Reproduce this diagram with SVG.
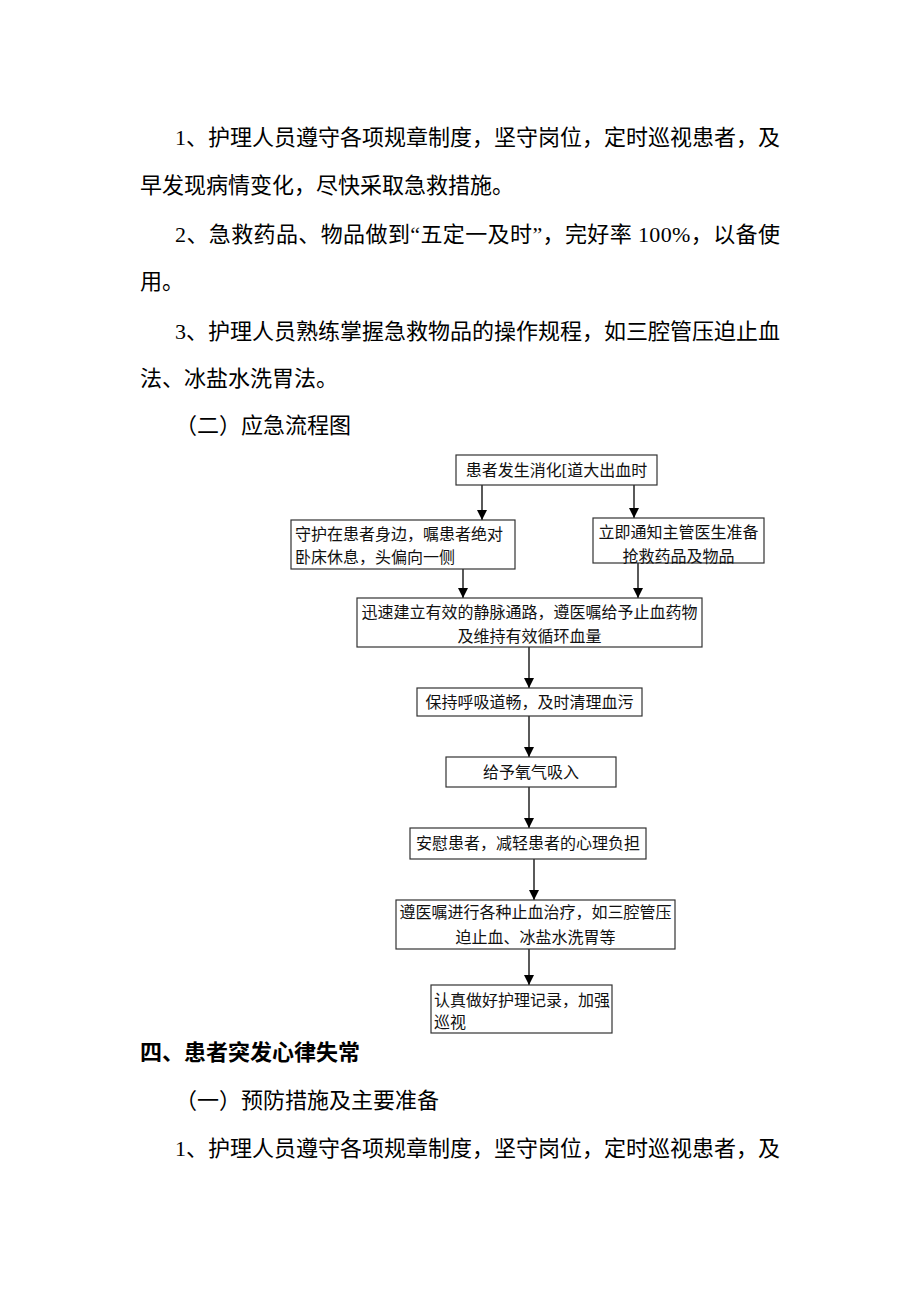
<svg xmlns="http://www.w3.org/2000/svg" width="920" height="1302" viewBox="0 0 920 1302">
<style>
.body{font-family:"Liberation Serif","Noto Sans CJK SC",serif;font-size:22px;fill:#000}
.bold{font-weight:bold}
.nt{font-family:"Liberation Serif","Noto Sans CJK SC",serif;font-size:16px;fill:#111}
.box{fill:#fff;stroke:#333;stroke-width:1.2}
.conn line{stroke:#000;stroke-width:1.3;marker-end:url(#ah)}
</style>
<defs>
<marker id="ah" markerUnits="userSpaceOnUse" markerWidth="12" markerHeight="12" refX="10" refY="5" orient="auto">
<path d="M0,0 L10,5 L0,10 Z" fill="#000"/>
</marker>
</defs>
<rect width="920" height="1302" fill="#fff"/>
<g id="text-top">
<text class="body" x="175" y="145" textLength="605" lengthAdjust="spacing">1、护理人员遵守各项规章制度，坚守岗位，定时巡视患者，及</text>
<text class="body" x="140" y="193">早发现病情变化，尽快采取急救措施。</text>
<text class="body" x="175" y="242" textLength="605" lengthAdjust="spacing">2、急救药品、物品做到“五定一及时”，完好率 100%，以备使</text>
<text class="body" x="140" y="289">用。</text>
<text class="body" x="175" y="339" textLength="605" lengthAdjust="spacing">3、护理人员熟练掌握急救物品的操作规程，如三腔管压迫止血</text>
<text class="body" x="140" y="386">法、冰盐水洗胃法。</text>
<text class="body" x="175" y="433">（二）应急流程图</text>
</g>
<g id="connectors" class="conn">
<line x1="482" y1="485" x2="482" y2="520"/>
<line x1="634" y1="485" x2="634" y2="518"/>
<line x1="463" y1="569" x2="463" y2="598"/>
<line x1="638" y1="563" x2="638" y2="598"/>
<line x1="529" y1="647" x2="529" y2="688"/>
<line x1="529" y1="716" x2="529" y2="757"/>
<line x1="529" y1="787" x2="529" y2="828"/>
<line x1="534" y1="859" x2="534" y2="900"/>
<line x1="529" y1="949" x2="529" y2="985"/>
</g>
<g id="n1">
<rect class="box" x="456" y="455" width="201" height="30"/>
<text class="nt" x="556.5" y="476" text-anchor="middle">患者发生消化[道大出血时</text>
</g>
<g id="n2">
<rect class="box" x="291" y="520" width="224" height="49"/>
<text class="nt" x="295" y="540">守护在患者身边，嘱患者绝对</text>
<text class="nt" x="295" y="563">卧床休息，头偏向一侧</text>
</g>
<g id="n3">
<rect class="box" x="593" y="518" width="171" height="45"/>
<text class="nt" x="678.5" y="538" text-anchor="middle">立即通知主管医生准备</text>
<text class="nt" x="678.5" y="562" text-anchor="middle">抢救药品及物品</text>
</g>
<g id="n4">
<rect class="box" x="357" y="598" width="345" height="49"/>
<text class="nt" x="529.5" y="618" text-anchor="middle">迅速建立有效的静脉通路，遵医嘱给予止血药物</text>
<text class="nt" x="529.5" y="642" text-anchor="middle">及维持有效循环血量</text>
</g>
<g id="n5">
<rect class="box" x="417" y="688" width="225" height="28"/>
<text class="nt" x="529.5" y="708" text-anchor="middle">保持呼吸道畅，及时清理血污</text>
</g>
<g id="n6">
<rect class="box" x="446" y="757" width="170" height="30"/>
<text class="nt" x="531" y="778" text-anchor="middle">给予氧气吸入</text>
</g>
<g id="n7">
<rect class="box" x="410" y="828" width="236" height="31"/>
<text class="nt" x="528" y="849" text-anchor="middle">安慰患者，减轻患者的心理负担</text>
</g>
<g id="n8">
<rect class="box" x="396" y="900" width="279" height="49"/>
<text class="nt" x="535.5" y="918" text-anchor="middle">遵医嘱进行各种止血治疗，如三腔管压</text>
<text class="nt" x="535.5" y="943" text-anchor="middle">迫止血、冰盐水洗胃等</text>
</g>
<g id="n9">
<rect class="box" x="431" y="985" width="181" height="48"/>
<text class="nt" x="434" y="1006">认真做好护理记录，加强</text>
<text class="nt" x="434" y="1028">巡视</text>
</g>
<g id="text-bottom">
<text class="body bold" x="140" y="1060">四、患者突发心律失常</text>
<text class="body" x="175" y="1108">（一）预防措施及主要准备</text>
<text class="body" x="175" y="1156" textLength="605" lengthAdjust="spacing">1、护理人员遵守各项规章制度，坚守岗位，定时巡视患者，及</text>
</g>
</svg>
